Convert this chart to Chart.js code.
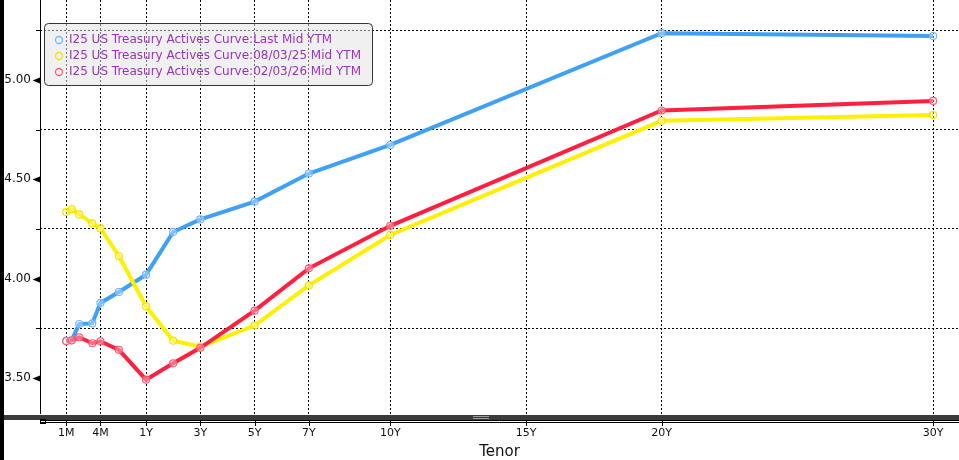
<!DOCTYPE html>
<html><head><meta charset="utf-8">
<script src="https://cdn.jsdelivr.net/npm/chart.js@4.4.1/dist/chart.umd.min.js"></script>
<style>html,body{margin:0;padding:0;background:#fff;overflow:hidden}#wrap{position:relative;width:959px;height:460px}</style>
</head><body><div id="wrap"><canvas id="c" width="959" height="460"></canvas></div>
<script>
// ---- data ----
const tenors = ['1M','1.5M','2M','3M','4M','6M','1Y','2Y','3Y','5Y','7Y','10Y','20Y','30Y'];
const tenorYears = [1/12, 1.5/12, 2/12, 3/12, 4/12, 0.5, 1, 2, 3, 5, 7, 10, 20, 30];
const lastMid   = [3.688, 3.690, 3.772, 3.775, 3.878, 3.933, 4.020, 4.235, 4.298, 4.388, 4.529, 4.673, 5.235, 5.221];
const mid080325 = [4.335, 4.350, 4.323, 4.278, 4.253, 4.114, 3.861, 3.688, 3.658, 3.764, 3.966, 4.220, 4.794, 4.823];
const mid020326 = [3.685, 3.690, 3.705, 3.675, 3.685, 3.642, 3.492, 3.574, 3.652, 3.839, 4.052, 4.266, 4.846, 4.894];
const seriesNames = [
  'I25 US Treasury Actives Curve:Last Mid YTM',
  'I25 US Treasury Actives Curve:08/03/25 Mid YTM',
  'I25 US Treasury Actives Curve:02/03/26 Mid YTM'
];
const tickLabels = ['1M','4M','1Y','3Y','5Y','7Y','10Y','15Y','20Y','30Y'];
const tickYears  = [1/12, 4/12, 1, 3, 5, 7, 10, 15, 20, 30];
const yTicks = [3.5, 3.75, 4, 4.25, 4.5, 4.75, 5, 5.25];
const xTitle = 'Tenor';

// tenor axis: linear in years from 1Y, stretched short end (years -> axis position)
const shortEndStops = [[1/12,-1.94],[1.5/12,-1.74],[2/12,-1.46],[3/12,-0.98],[4/12,-0.68],[0.5,0],[1,1]];
function axisPos(t){
  if (t >= 1) return t;
  for (let i = 0; i < shortEndStops.length - 1; i++) {
    const [t0,p0] = shortEndStops[i], [t1,p1] = shortEndStops[i+1];
    if (t <= t1) return p0 + (p1 - p0) * (t - t0) / (t1 - t0);
  }
  return 1;
}
const colors = ['#3fa0f5', '#fff000', '#ff2040'];
const pointColors = ['#6db8ff', '#f2e400', '#ff5c78'];
const mk = (vals) => vals.map((v, i) => ({x: axisPos(tenorYears[i]), y: v}));
const isHalf = v => Math.abs(v * 2 - Math.round(v * 2)) < 1e-9;
const noPad = s => { s.paddingTop = 0; s.paddingBottom = 0; s.paddingLeft = 0; s.paddingRight = 0; };

const decor = {
  id: 'decor',
  beforeDraw(chart){
    const ctx = chart.ctx;
    ctx.save(); ctx.fillStyle = '#fff'; ctx.fillRect(0,0,chart.width,chart.height); ctx.restore();
  },
  afterDraw(chart){
    const ctx = chart.ctx, ys = chart.scales.y, xs = chart.scales.x, ca = chart.chartArea;
    ctx.save();
    ctx.fillStyle = '#000'; ctx.fillRect(0,0,4,chart.height);
    ctx.strokeStyle = '#000'; ctx.lineWidth = 1;
    ctx.beginPath(); ctx.moveTo(40.5, 0); ctx.lineTo(40.5, ca.bottom); ctx.stroke();
    yTicks.forEach(v => {
      const py = Math.round(ys.getPixelForValue(v));
      if (isHalf(v)) {
        ctx.fillStyle = '#000';
        ctx.beginPath(); ctx.moveTo(32.5, py + 0.5); ctx.lineTo(40, py - 2.5); ctx.lineTo(40, py + 3.5); ctx.closePath(); ctx.fill();
      } else {
        ctx.beginPath(); ctx.moveTo(36, py + 0.5); ctx.lineTo(40, py + 0.5); ctx.stroke();
      }
    });
    const b = ca.bottom;
    ctx.fillStyle = '#3a3a3a'; ctx.fillRect(4, b + 1, chart.width - 4, 5);
    ctx.strokeStyle = '#999';
    [b + 2.5, b + 4.5].forEach(yy => { ctx.beginPath(); ctx.moveTo(473, yy); ctx.lineTo(489, yy); ctx.stroke(); });
    ctx.strokeStyle = '#000';
    [b + 6.5, b + 8.5].forEach(yy => { ctx.beginPath(); ctx.moveTo(40, yy); ctx.lineTo(chart.width, yy); ctx.stroke(); });
    ctx.fillStyle = '#fff'; ctx.fillRect(45, b + 7, 210, 1);
    ctx.strokeRect(40.5, b + 5.5, 5, 4);
    tickYears.forEach(t => {
      const px = Math.round(xs.getPixelForValue(axisPos(t))) + 0.5;
      ctx.beginPath(); ctx.moveTo(px, b + 6); ctx.lineTo(px, b + 12); ctx.stroke();
    });
    ctx.fillStyle = '#111'; ctx.font = '15px "DejaVu Sans"'; ctx.textAlign = 'center'; ctx.textBaseline = 'middle';
    ctx.fillText(xTitle, (ca.left + ca.right) / 2, 452);
    // legend
    ctx.beginPath(); ctx.roundRect(44.5, 23.5, 328, 62, 4);
    ctx.fillStyle = 'rgba(225,225,225,0.5)'; ctx.fill();
    ctx.strokeStyle = '#333'; ctx.lineWidth = 1; ctx.stroke();
    ctx.font = '12px "DejaVu Sans"'; ctx.textAlign = 'left'; ctx.textBaseline = 'middle';
    seriesNames.forEach((n, i) => {
      const yy = 40 + i * 16;
      ctx.beginPath(); ctx.arc(59, yy, 3.5, 0, Math.PI * 2);
      ctx.strokeStyle = pointColors[i]; ctx.lineWidth = 1.3; ctx.stroke();
      ctx.fillStyle = '#9933bb'; ctx.fillText(n, 69, yy);
    });
    ctx.restore();
  }
};

new Chart(document.getElementById('c'), {
  type: 'line',
  data: {
    datasets: [lastMid, mid080325, mid020326].map((vals, i) => ({
      label: seriesNames[i],
      data: mk(vals),
      borderColor: colors[i],
      borderWidth: 4,
      pointRadius: 3.5,
      pointBorderWidth: 1.2,
      pointBorderColor: pointColors[i],
      pointBackgroundColor: 'rgba(255,255,255,0.35)',
      tension: 0,
      order: 2 - i
    }))
  },
  options: {
    responsive: false,
    animation: false,
    devicePixelRatio: 1,
    layout: {padding: 0, autoPadding: false},
    plugins: {legend: {display: false}, tooltip: {enabled: false}},
    scales: {
      x: {
        type: 'linear',
        min: (40 - 118.9) / 27.14,
        max: (959 - 118.9) / 27.14,
        afterBuildTicks: s => { s.ticks = tickYears.map(t => ({value: axisPos(t)})); },
        afterFit: s => { s.height = 46; noPad(s); },
        ticks: {
          autoSkip: false, maxRotation: 0, padding: 13,
          color: '#111', font: {family: 'DejaVu Sans', size: 11},
          callback: (v, i) => tickLabels[i]
        },
        grid: {color: '#000', lineWidth: 1, drawTicks: false},
        border: {display: false, dash: [2, 2]}
      },
      y: {
        type: 'linear',
        min: 3.5 - 36 / 199,
        max: 5 + 80 / 199,
        afterBuildTicks: s => { s.ticks = yTicks.map(v => ({value: v})); },
        afterFit: s => { s.width = 40; noPad(s); },
        ticks: {
          padding: 9, color: '#111', font: {family: 'DejaVu Sans', size: 12},
          callback: v => isHalf(v) ? v.toFixed(2) : ''
        },
        grid: {
          lineWidth: 1, drawTicks: false,
          color: c => (c.tick && !isHalf(c.tick.value)) ? '#000' : 'rgba(0,0,0,0)'
        },
        border: {display: false, dash: [2, 2]}
      }
    }
  },
  plugins: [decor]
});
</script></body></html>
